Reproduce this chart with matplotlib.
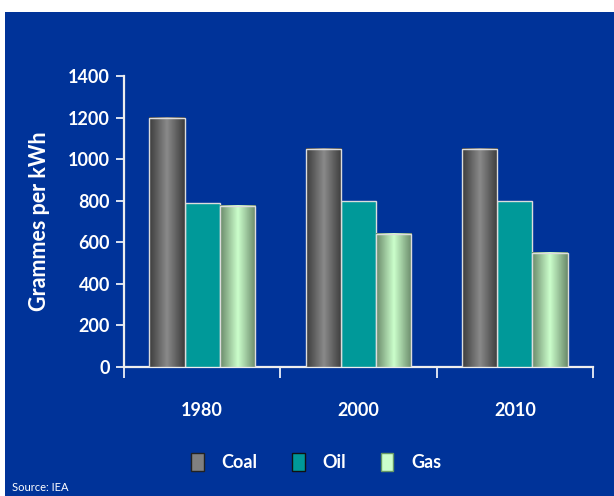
import numpy as np
import matplotlib.pyplot as plt
from matplotlib.patches import Rectangle, Patch
from matplotlib.colors import LinearSegmentedColormap

# data
years = ['1980', '2000', '2010']
coal = [1200, 1050, 1050]
oil = [790, 800, 800]
gas = [775, 640, 550]
series_names = ['Coal', 'Oil', 'Gas']

plt.rcParams['font.family'] = ['Lato', 'DejaVu Sans']

bg = '#003399'
fig = plt.figure(figsize=(6.14, 4.96), dpi=100)
fig.patch.set_facecolor('white')
fig.patches.append(Rectangle((5 / 614, 0), 1, 484 / 496, transform=fig.transFigure,
                             facecolor=bg, edgecolor='none', zorder=-5))

ax = fig.add_axes([124 / 614, 129 / 496, 469 / 614, 291 / 496])
ax.patch.set_alpha(0)

x = np.arange(len(years))
w = 0.225
coal_cmap = LinearSegmentedColormap.from_list('coal', ['#3c3c3c', '#8a8a8a', '#3c3c3c'])
gas_cmap = LinearSegmentedColormap.from_list('gas', ['#6a8a6a', '#ccffcc', '#6a8a6a'])
grad = np.linspace(0, 1, 64).reshape(1, -1)

bars_coal = ax.bar(x - w, coal, w, color='#666666', edgecolor='#dddddd', linewidth=1, zorder=3)
bars_oil = ax.bar(x, oil, w, color='#009999', edgecolor='#dddddd', linewidth=1, zorder=3)
bars_gas = ax.bar(x + w, gas, w, color='#99cc99', edgecolor='#dddddd', linewidth=1, zorder=3)

# gradient fills for the cylinders
for bars, cmap in [(bars_coal, coal_cmap), (bars_gas, gas_cmap)]:
    for b in bars:
        x0, y0 = b.get_x(), b.get_y()
        ax.imshow(grad, cmap=cmap, aspect='auto', zorder=3.5,
                  extent=(x0, x0 + b.get_width(), y0, y0 + b.get_height()))
        b.set_facecolor('none')
        b.set_zorder(4)

ax.set_xlim(-0.5, 2.5)
ax.set_ylim(0, 1400)
ax.set_yticks(range(0, 1401, 200))
ax.set_xticks(x)
ax.set_xticklabels(years)
ax.set_xticks([-0.5, 0.5, 1.5, 2.5], minor=True)

for s in ['top', 'right']:
    ax.spines[s].set_visible(False)
for s in ['left', 'bottom']:
    ax.spines[s].set_color('#eeeeee')
    ax.spines[s].set_linewidth(1.6)

ax.tick_params(axis='y', colors='white', length=6, width=1.2, labelsize=13, pad=4)
ax.tick_params(axis='x', which='major', length=0, colors='white', labelsize=13, pad=25)
ax.tick_params(axis='x', which='minor', length=8, width=1.2, color='white')
for lab in ax.get_xticklabels() + ax.get_yticklabels():
    lab.set_fontweight('bold')

ax.set_ylabel('Grammes per kWh', color='white', fontsize=15.5, fontweight='bold', labelpad=13)

handles = [Patch(facecolor='#808080', edgecolor='#222222'),
           Patch(facecolor='#009999', edgecolor='#111111'),
           Patch(facecolor='#ccffcc', edgecolor='#669966')]
leg = fig.legend(handles, series_names, loc='center', bbox_to_anchor=(0.515, 34 / 496),
                 ncol=3, frameon=False, handlelength=0.7, handleheight=1.2,
                 columnspacing=1.9, handletextpad=1.0,
                 prop={'weight': 'bold', 'size': 13})
for t in leg.get_texts():
    t.set_color('white')

fig.text(12 / 614, 5 / 496, 'Source: IEA', color='white', fontsize=8)

fig.savefig('out.png', dpi=100, facecolor=fig.get_facecolor())
